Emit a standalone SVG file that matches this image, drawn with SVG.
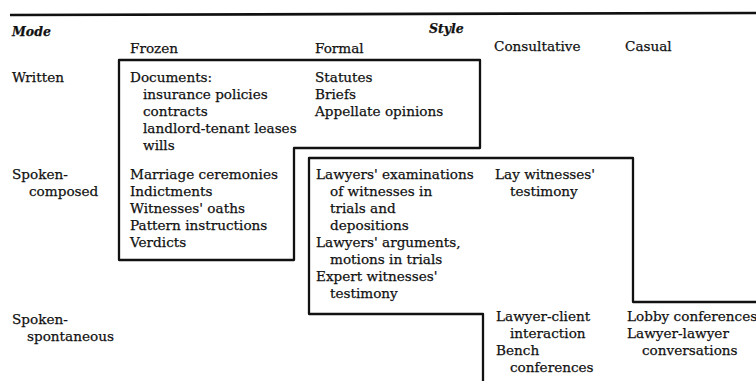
<svg xmlns="http://www.w3.org/2000/svg" width="756" height="381" viewBox="0 0 756 381">
<style>
  text { font-family: "DejaVu Serif", "Liberation Serif", serif; font-size: 13.6px; fill: #111; stroke: #111; stroke-width: 0.25; }
  .hd { font-style: italic; font-weight: bold; font-size: 12.5px; }
  .box { fill: none; stroke: #111; stroke-width: 2.3; stroke-linejoin: round; }
  .rule { fill: none; stroke: #111; stroke-width: 2.6; }
</style>
<rect width="756" height="381" fill="#fff"/>
<g id="rules">
  <line class="rule" x1="10" y1="15" x2="756" y2="13"/>
</g>
<g id="connectors">
  <path id="box-frozen-formal" class="box" d="M119,60 H480 V148 H294 V260 H119 Z"/>
  <path id="box-formal-consultative" class="box" d="M757,302 H633 V158 H309 V314 H483 V382"/>
</g>
<g id="headers">
  <text class="hd" x="12" y="36">Mode</text>
  <text class="hd" x="429" y="33">Style</text>
  <text x="130" y="53">Frozen</text>
  <text x="315" y="53">Formal</text>
  <text x="494" y="51">Consultative</text>
  <text x="625" y="51">Casual</text>
</g>
<g id="row-written">
  <text x="12" y="82">Written</text>
</g>
<g id="row-spoken-composed">
  <text x="12" y="179">Spoken-</text>
  <text x="29" y="196">composed</text>
</g>
<g id="row-spoken-spontaneous">
  <text x="12" y="324">Spoken-</text>
  <text x="27" y="341">spontaneous</text>
</g>
<g id="cell-written-frozen">
  <text x="130" y="82">Documents:</text>
  <text x="143" y="99">insurance policies</text>
  <text x="143" y="116">contracts</text>
  <text x="143" y="133">landlord-tenant leases</text>
  <text x="143" y="150">wills</text>
</g>
<g id="cell-written-formal">
  <text x="315" y="82">Statutes</text>
  <text x="315" y="99">Briefs</text>
  <text x="315" y="116">Appellate opinions</text>
</g>
<g id="cell-composed-frozen">
  <text x="130" y="179">Marriage ceremonies</text>
  <text x="130" y="196">Indictments</text>
  <text x="130" y="213">Witnesses' oaths</text>
  <text x="130" y="230">Pattern instructions</text>
  <text x="130" y="247">Verdicts</text>
</g>
<g id="cell-composed-formal">
  <text x="316" y="179">Lawyers' examinations</text>
  <text x="330" y="196">of witnesses in</text>
  <text x="330" y="213">trials and</text>
  <text x="330" y="230">depositions</text>
  <text x="316" y="247">Lawyers' arguments,</text>
  <text x="330" y="264">motions in trials</text>
  <text x="316" y="281">Expert witnesses'</text>
  <text x="330" y="298">testimony</text>
</g>
<g id="cell-composed-consultative">
  <text x="495" y="179">Lay witnesses'</text>
  <text x="510" y="196">testimony</text>
</g>
<g id="cell-spontaneous-consultative">
  <text x="496" y="321">Lawyer-client</text>
  <text x="510" y="338">interaction</text>
  <text x="496" y="355">Bench</text>
  <text x="510" y="372">conferences</text>
</g>
<g id="cell-spontaneous-casual">
  <text x="627" y="321">Lobby conferences</text>
  <text x="627" y="338">Lawyer-lawyer</text>
  <text x="642" y="355">conversations</text>
</g>
</svg>
